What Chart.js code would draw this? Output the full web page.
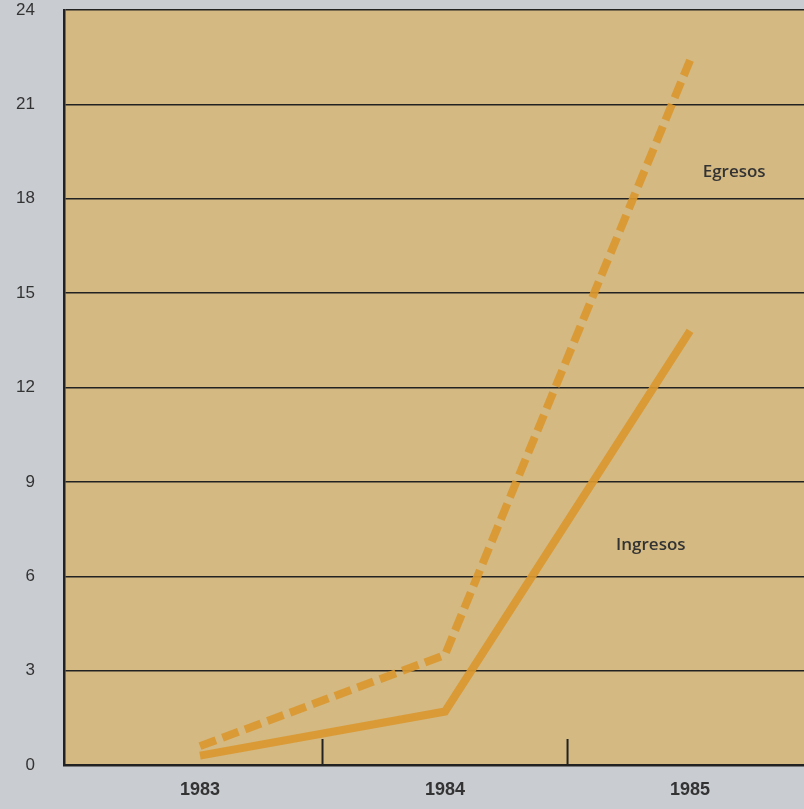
<!DOCTYPE html>
<html>
<head>
<meta charset="utf-8">
<script src="https://cdn.jsdelivr.net/npm/chart.js@4.4.0/dist/chart.umd.min.js"></script>
<style>
  html, body { margin: 0; padding: 0; background: #c9ccd1; }
  #wrap { width: 804px; height: 809px; position: relative; }
</style>
</head>
<body>
<div id="wrap"><canvas id="chart"></canvas></div>
<script>
// Years on the x axis
const years = [1983, 1984, 1985];
// Series values
const egresos = [0.6, 3.5, 22.4];
const ingresos = [0.3, 1.7, 13.8];
// Y tick labels
const yTicks = [0, 3, 6, 9, 12, 15, 18, 21, 24];
// Small inward tick marks between the years
const tickMarks = [1983.5, 1984.5];
// Series name labels placed in data coordinates
const seriesLabels = [
    { text: 'Egresos', x: 1985.18, y: 18.85 },
    { text: 'Ingresos', x: 1984.84, y: 7.0 }
];

const lineColor = 'rgba(218, 152, 48, 0.92)';

// Tan plot area background
const plotBackground = {
    id: 'plotBackground',
    beforeDraw(chart) {
        const { ctx, chartArea: a } = chart;
        ctx.save();
        ctx.fillStyle = '#d4b983';
        ctx.fillRect(a.left, a.top, a.right - a.left, a.bottom - a.top);
        ctx.restore();
    }
};

// Tick marks pointing up from the x axis, plus series names
const extras = {
    id: 'extras',
    afterDatasetsDraw(chart) {
        const { ctx, chartArea: a, scales: { x, y } } = chart;
        ctx.save();
        ctx.strokeStyle = '#222';
        ctx.lineWidth = 2;
        tickMarks.forEach(v => {
            const px = x.getPixelForValue(v);
            ctx.beginPath();
            ctx.moveTo(px, a.bottom);
            ctx.lineTo(px, a.bottom - 26);
            ctx.stroke();
        });
        ctx.fillStyle = '#333';
        ctx.font = '600 17px "Open Sans", sans-serif';
        ctx.textAlign = 'center';
        ctx.textBaseline = 'middle';
        seriesLabels.forEach(l => {
            ctx.fillText(l.text, x.getPixelForValue(l.x), y.getPixelForValue(l.y));
        });
        ctx.restore();
    }
};

new Chart(document.getElementById('chart'), {
    type: 'line',
    data: {
        datasets: [
            {
                label: 'Egresos',
                data: years.map((yr, i) => ({ x: yr, y: egresos[i] })),
                borderColor: lineColor,
                borderWidth: 8,
                borderDash: [17, 7],
                pointRadius: 0,
                tension: 0
            },
            {
                label: 'Ingresos',
                data: years.map((yr, i) => ({ x: yr, y: ingresos[i] })),
                borderColor: lineColor,
                borderWidth: 8,
                pointRadius: 0,
                tension: 0
            }
        ]
    },
    options: {
        responsive: true,
        maintainAspectRatio: false,
        animation: false,
        layout: { padding: { top: 10, right: 0, left: 0, bottom: 0 } },
        plugins: {
            legend: { display: false },
            tooltip: { enabled: false }
        },
        scales: {
            x: {
                type: 'linear',
                min: 1982.445,
                max: 1985.465,
                afterBuildTicks: s => { s.ticks = years.map(v => ({ value: v })); },
                afterFit: s => { s.height = 44; },
                grid: { display: false, drawTicks: false },
                border: { display: true, color: '#222', width: 2.5 },
                ticks: {
                    padding: 14,
                    color: '#333',
                    font: { size: 18, weight: 'bold', family: '"Liberation Sans", Arial, sans-serif' },
                    callback: v => String(v)
                }
            },
            y: {
                min: 0,
                max: 24,
                afterBuildTicks: s => { s.ticks = yTicks.map(v => ({ value: v })); },
                afterFit: s => { s.width = 64; s.paddingTop = 0; s.paddingBottom = 0; },
                grid: { color: '#222', lineWidth: 1.5, drawTicks: false },
                border: { display: true, color: '#222', width: 2.5 },
                ticks: {
                    padding: 29,
                    color: '#333',
                    font: { size: 17, family: '"Liberation Sans", Arial, sans-serif' }
                }
            }
        }
    },
    plugins: [plotBackground, extras]
});
</script>
</body>
</html>
